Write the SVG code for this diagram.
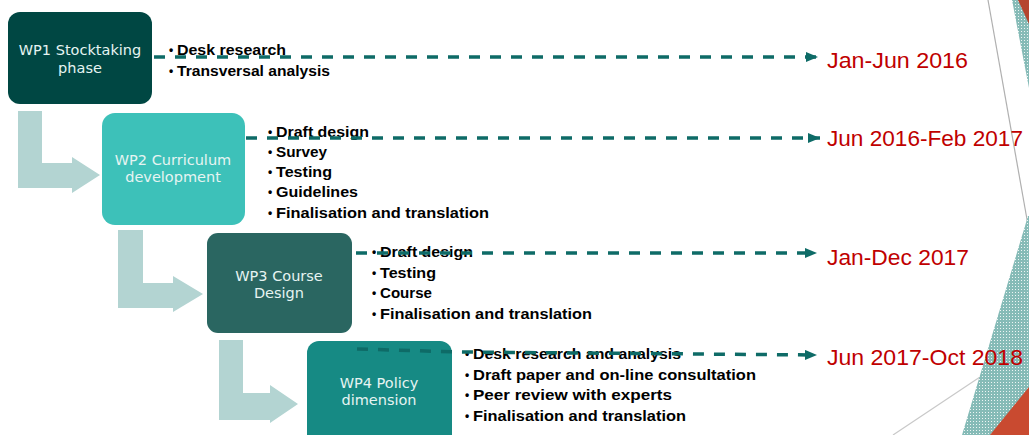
<svg xmlns="http://www.w3.org/2000/svg" width="1029" height="435" viewBox="0 0 1029 435">
<style>
.lbl{font-family:"DejaVu Sans","Liberation Sans",sans-serif;font-size:14.5px;fill:#e6f4f2;text-anchor:middle}
.li{font-family:"Liberation Sans",Arial,sans-serif;font-size:15.5px;font-weight:bold;fill:#000}
.bul{font-family:"Liberation Sans",Arial,sans-serif;font-size:12px;font-weight:bold;fill:#000}
.date{font-family:"Liberation Sans",Arial,sans-serif;font-size:22px;fill:#c00000}
.bent{fill:#b3d4d2}
.dash{fill:none;stroke:#0e6b67;stroke-width:3.5;stroke-dasharray:11 10;marker-end:url(#ah)}
</style>
<defs>
<marker id="ah" markerUnits="userSpaceOnUse" markerWidth="12" markerHeight="10" refX="12" refY="5" orient="auto">
<path d="M0,0 L12,5 L0,10 Z" fill="#0e6b67"/>
</marker>
<pattern id="hatch" width="3" height="3" patternUnits="userSpaceOnUse">
<rect width="3" height="3" fill="#86bbb7"/>
<rect x="1" y="1" width="1" height="1" fill="#eef5f4"/>
</pattern>
</defs>
<rect width="1029" height="435" fill="#ffffff"/>
<g id="decoration">
<line x1="988" y1="0" x2="1028" y2="225" stroke="#b0b0b0" stroke-width="1.2"/>
<line x1="893" y1="435" x2="980" y2="377" stroke="#c8c8c8" stroke-width="1.2"/>
<polygon points="1012,0 1029,0 1029,88" fill="url(#hatch)"/>
<polygon points="1018,0 1029,0 1029,24" fill="#b5452e"/>
<polygon points="1028,216 1029,216 1029,435 962,435" fill="url(#hatch)"/>
<polygon points="1029,387 1029,435 990,435" fill="#c94a30"/>
</g>
<g id="connectors">
<path class="bent" d="M18,111 H42 V163 H72 V157 L100,175 L72,193 V188 H18 Z"/>
<path class="bent" d="M118,230 H143 V283 H173 V276 L203,294 L173,312 V308 H118 Z"/>
<path class="bent" d="M219,340 H243 V393 H270 V385 L298,404 L270,423 V420 H219 Z"/>
</g>
<g id="wp1">
<rect x="8" y="12" width="144" height="92" rx="12" fill="#004743"/>
<text class="lbl" x="80" y="55">WP1 Stocktaking</text>
<text class="lbl" x="80" y="73">phase</text>
<text class="bul" x="169" y="54">•</text><text class="li" x="177" y="55" textLength="109" lengthAdjust="spacingAndGlyphs">Desk research</text>
<text class="bul" x="169" y="75">•</text><text class="li" x="177" y="76" textLength="153" lengthAdjust="spacingAndGlyphs">Transversal analysis</text>
</g>
<g id="wp2">
<rect x="102" y="113" width="143" height="112" rx="13" fill="#3dc1b9"/>
<text class="lbl" x="173" y="165">WP2 Curriculum</text>
<text class="lbl" x="173" y="182">development</text>
<text class="bul" x="268" y="136">•</text><text class="li" x="276" y="137" textLength="93" lengthAdjust="spacingAndGlyphs">Draft design</text>
<text class="bul" x="268" y="156">•</text><text class="li" x="276" y="157" textLength="51" lengthAdjust="spacingAndGlyphs">Survey</text>
<text class="bul" x="268" y="176">•</text><text class="li" x="276" y="177" textLength="56" lengthAdjust="spacingAndGlyphs">Testing</text>
<text class="bul" x="268" y="196">•</text><text class="li" x="276" y="197" textLength="82" lengthAdjust="spacingAndGlyphs">Guidelines</text>
<text class="bul" x="268" y="217">•</text><text class="li" x="276" y="218" textLength="213" lengthAdjust="spacingAndGlyphs">Finalisation and translation</text>
</g>
<g id="wp3">
<rect x="207" y="233" width="145" height="100" rx="11" fill="#2a6661"/>
<text class="lbl" x="279" y="281">WP3 Course</text>
<text class="lbl" x="279" y="298">Design</text>
<text class="bul" x="372" y="256">•</text><text class="li" x="380" y="257" textLength="93" lengthAdjust="spacingAndGlyphs">Draft design</text>
<text class="bul" x="372" y="277">•</text><text class="li" x="380" y="278" textLength="56" lengthAdjust="spacingAndGlyphs">Testing</text>
<text class="bul" x="372" y="297">•</text><text class="li" x="380" y="298" textLength="52" lengthAdjust="spacingAndGlyphs">Course</text>
<text class="bul" x="372" y="318">•</text><text class="li" x="380" y="319" textLength="212" lengthAdjust="spacingAndGlyphs">Finalisation and translation</text>
</g>
<g id="wp4">
<rect x="307" y="341" width="145" height="110" rx="12" fill="#168a84"/>
<text class="lbl" x="379" y="388">WP4 Policy</text>
<text class="lbl" x="379" y="405">dimension</text>
<text class="bul" x="465" y="358">•</text><text class="li" x="473" y="359" textLength="208" lengthAdjust="spacingAndGlyphs">Desk research and analysis</text>
<text class="bul" x="465" y="379">•</text><text class="li" x="473" y="380" textLength="283" lengthAdjust="spacingAndGlyphs">Draft paper and on-line consultation</text>
<text class="bul" x="465" y="399">•</text><text class="li" x="473" y="400" textLength="199" lengthAdjust="spacingAndGlyphs">Peer review with experts</text>
<text class="bul" x="465" y="420">•</text><text class="li" x="473" y="421" textLength="213" lengthAdjust="spacingAndGlyphs">Finalisation and translation</text>
</g>
<g id="timeline-connectors">
<line class="dash" x1="154" y1="57" x2="818" y2="57"/>
<line class="dash" x1="246" y1="138" x2="820" y2="138"/>
<line class="dash" x1="356" y1="253" x2="817" y2="253"/>
<polyline class="dash" points="357,349 460,352 817,355"/>
</g>
<g id="dates">
<text class="date" x="827" y="68" textLength="141" lengthAdjust="spacingAndGlyphs">Jan-Jun 2016</text>
<text class="date" x="827" y="146" textLength="196" lengthAdjust="spacingAndGlyphs">Jun 2016-Feb 2017</text>
<text class="date" x="827" y="265" textLength="142" lengthAdjust="spacingAndGlyphs">Jan-Dec 2017</text>
<text class="date" x="827" y="365" textLength="196" lengthAdjust="spacingAndGlyphs">Jun 2017-Oct 2018</text>
</g>
</svg>
